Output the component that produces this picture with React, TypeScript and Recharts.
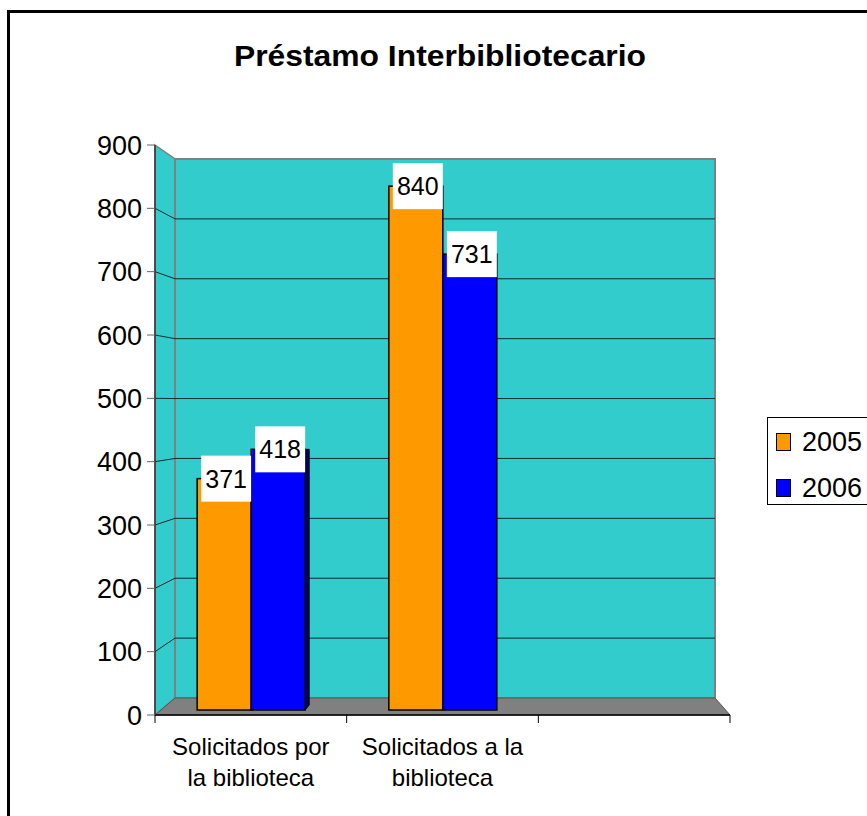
import React from "react";
import {
  BarChart,
  Bar,
  XAxis,
  YAxis,
  Legend,
  LabelList,
  Customized,
} from "recharts";

const categories = ["Solicitados por la biblioteca", "Solicitados a la biblioteca", ""];
const categoryLines = [["Solicitados por", "la biblioteca"], ["Solicitados a la", "biblioteca"], []];
const values2005 = [371, 840, null];
const values2006 = [418, 731, null];
const yTicks = [0, 100, 200, 300, 400, 500, 600, 700, 800, 900];
const seriesNames = ["2005", "2006"];

const data = categories.map((name, i) => ({
  name,
  idx: i,
  y2005: values2005[i],
  y2006: values2006[i],
}));

const FONT = '"Liberation Sans", Arial, sans-serif';
const ORANGE = "#FF9900";
const BLUE = "#0000FF";
const WALL = "#33CCCC";
const FLOOR = "#808080";

// plot geometry (front plane) and the back wall of the fake 3D box
const W = 867;
const H = 816;
const PL = 155;
const PR = 730;
const PT = 145;
const PB = 715;
const BACK_L = 175;
const BACK_R = 715;
const BACK_T = 159;
const BACK_B = 698;
const YMAX = 900;

function Walls() {
  const front = (v: number) => PB - (v / YMAX) * (PB - PT);
  const back = (v: number) => BACK_B - (v / YMAX) * (BACK_B - BACK_T);
  const band = (PR - PL) / categories.length;
  return (
    <g>
      <polygon
        points={`${PL},${PT} ${BACK_L},${BACK_T} ${BACK_L},${BACK_B} ${PL},${PB}`}
        fill={WALL}
        stroke={FLOOR}
        strokeWidth={1.5}
      />
      <rect
        x={BACK_L}
        y={BACK_T}
        width={BACK_R - BACK_L}
        height={BACK_B - BACK_T}
        fill={WALL}
        stroke={FLOOR}
        strokeWidth={2}
      />
      <polygon
        points={`${PL},${PB} ${BACK_L},${BACK_B} ${BACK_R},${BACK_B} ${PR},${PB}`}
        fill={FLOOR}
        stroke="#555"
        strokeWidth={1}
      />
      {yTicks
        .filter((v) => v > 0 && v < YMAX)
        .map((v) => (
          <g key={v}>
            <line x1={PL} y1={front(v)} x2={BACK_L} y2={back(v)} stroke="#0b2f2f" strokeWidth={1} />
            <line x1={BACK_L} y1={back(v)} x2={BACK_R} y2={back(v)} stroke="#0b2f2f" strokeWidth={1} />
          </g>
        ))}
      {categories.map((_, i) => (
        <line key={i} x1={PL + i * band} y1={PB} x2={PL + i * band} y2={PB + 8} stroke="#000" />
      ))}
      <line x1={PR} y1={PB} x2={PR} y2={PB + 8} stroke="#000" />
    </g>
  );
}

function Title() {
  return (
    <text
      x={440}
      y={66}
      textAnchor="middle"
      fontFamily={FONT}
      fontWeight="bold"
      fontSize={29}
      textLength={412}
      lengthAdjust="spacingAndGlyphs"
      fill="#000"
    >
      Préstamo Interbibliotecario
    </text>
  );
}

function BarShape(props: any) {
  const { x, y, width, height, fill } = props;
  if (height == null || height <= 0) return null;
  const sideColor = fill === BLUE ? "#000066" : "#995c00";
  const showSide = x + width < 400;
  return (
    <g>
      {showSide && (
        <polygon
          points={`${x + width},${y} ${x + width + 4},${y} ${x + width + 4},${y + height - 5} ${x + width},${y + height}`}
          fill={sideColor}
          stroke="#000"
          strokeWidth={1}
        />
      )}
      <rect x={x} y={y} width={width} height={height} fill={fill} stroke="#000" strokeWidth={1.5} />
    </g>
  );
}

function ValueLabel(props: any) {
  const { x, y, width, value } = props;
  if (value == null) return null;
  const cx = x + width / 2 + 2;
  return (
    <g>
      <rect x={cx - 25} y={y - 23} width={50} height={46} fill="#fff" />
      <text
        x={cx}
        y={y + 9}
        textAnchor="middle"
        fontFamily={FONT}
        fontSize={25}
        fill="#000"
      >
        {value}
      </text>
    </g>
  );
}

function CategoryTick(props: any) {
  const { x, payload } = props;
  const lines = categoryLines[payload.index] || [];
  return (
    <g>
      {lines.map((line, i) => (
        <text
          key={i}
          x={x}
          y={PB + 40 + i * 31}
          textAnchor="middle"
          fontFamily={FONT}
          fontSize={24}
          fill="#000"
        >
          {line}
        </text>
      ))}
    </g>
  );
}

function LegendBox() {
  const colors = [ORANGE, BLUE];
  return (
    <div
      style={{
        border: "1px solid #000",
        width: 120,
        height: 88,
        boxSizing: "border-box",
        background: "#fff",
        fontFamily: FONT,
        fontSize: 27,
        color: "#000",
      }}
    >
      {seriesNames.map((s, i) => (
        <div
          key={s}
          style={{ position: "absolute", left: 9, top: 12 + i * 46, display: "flex", alignItems: "center", lineHeight: "26px" }}
        >
          <span
            style={{
              display: "inline-block",
              width: 13,
              height: 16,
              background: colors[i],
              border: "1.5px solid #000",
              marginRight: 11,
            }}
          />
          <span>{s}</span>
        </div>
      ))}
    </div>
  );
}

export default function App() {
  return (
    <div
      style={{
        position: "fixed",
        left: 0,
        top: 0,
        width: W,
        height: H,
        overflow: "hidden",
        background: "#fff",
      }}
    >
      <div
        style={{
          position: "absolute",
          left: 7,
          top: 10,
          width: 1000,
          height: 1000,
          border: "3px solid #000",
        }}
      />
      <BarChart
        width={W}
        height={H}
        data={data}
        margin={{ top: PT, right: W - PR, left: PL - 60, bottom: 1 }}
        barCategoryGap="22%"
        barGap={0}
        style={{ position: "absolute", left: 0, top: 0 }}
      >
        <Customized component={<Walls />} />
        <Customized component={<Title />} />
        <XAxis
          dataKey="name"
          height={H - PB - 1}
          axisLine={{ stroke: "#000", strokeWidth: 1.5 }}
          tickLine={false}
          interval={0}
          tick={<CategoryTick />}
        />
        <YAxis
          yAxisId="v"
          width={60}
          domain={[0, YMAX]}
          ticks={yTicks}
          allowDataOverflow
          axisLine={{ stroke: "#333", strokeWidth: 1.5 }}
          tickLine={{ stroke: "#666" }}
          tickSize={8}
          tickMargin={5}
          tick={{ fill: "#000", fontSize: 27, fontFamily: FONT }}
        />
        <YAxis yAxisId="b" orientation="right" width={0} hide domain={[-8, 906]} allowDataOverflow />
        <Legend
          layout="vertical"
          align="center"
          verticalAlign="middle"
          content={<LegendBox />}
          wrapperStyle={{ position: "absolute", left: 767, top: 417, width: 120, height: 88 }}
        />
        <Bar yAxisId="b" dataKey="y2005" name="2005" fill={ORANGE} shape={<BarShape />} isAnimationActive={false}>
          <LabelList dataKey="y2005" content={<ValueLabel />} />
        </Bar>
        <Bar yAxisId="b" dataKey="y2006" name="2006" fill={BLUE} shape={<BarShape />} isAnimationActive={false}>
          <LabelList dataKey="y2006" content={<ValueLabel />} />
        </Bar>
      </BarChart>
    </div>
  );
}
